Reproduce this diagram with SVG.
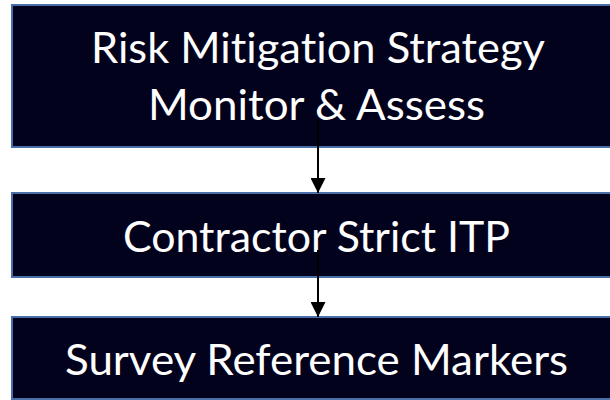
<svg xmlns="http://www.w3.org/2000/svg" width="610" height="400" viewBox="0 0 610 400">
  <style>
    .box { fill: #03021c; stroke: #4a6ea8; stroke-width: 2; }
    .lbl { fill: #ffffff; font-family: Lato, "Open Sans", "Liberation Sans", sans-serif; font-size: 42px; text-anchor: middle; font-variant-ligatures: none; font-feature-settings: "liga" 0; }
    .conn { stroke: #000000; stroke-width: 2; fill: none; }
  </style>
  <defs>
    <marker id="arrow" viewBox="0 0 10 10" refX="10" refY="5" markerWidth="7.5" markerHeight="7.5" markerUnits="strokeWidth" orient="auto">
      <path d="M0,0 L10,5 L0,10 Z" fill="#000000"/>
    </marker>
  </defs>
  <rect width="610" height="400" fill="#ffffff"/>
  <g id="node-risk">
    <rect class="box" x="12" y="5" width="620" height="142"/>
    <text class="lbl" x="318" y="63" textLength="454" lengthAdjust="spacingAndGlyphs">Risk Mitigation Strategy</text>
    <text class="lbl" x="316.5" y="120" textLength="337" lengthAdjust="spacingAndGlyphs">Monitor &amp; Assess</text>
  </g>
  <g id="node-contractor">
    <rect class="box" x="12" y="193" width="620" height="84"/>
    <text class="lbl" x="316.5" y="252" textLength="387" lengthAdjust="spacingAndGlyphs">Contractor Strict ITP</text>
  </g>
  <g id="node-survey">
    <rect class="box" x="12" y="317" width="620" height="82"/>
    <text class="lbl" x="316.5" y="375" textLength="503" lengthAdjust="spacingAndGlyphs">Survey Reference Markers</text>
  </g>
  <g id="connectors">
    <line class="conn" x1="318" y1="118" x2="318" y2="193" marker-end="url(#arrow)"/>
    <line class="conn" x1="318" y1="250" x2="318" y2="317" marker-end="url(#arrow)"/>
  </g>
</svg>
